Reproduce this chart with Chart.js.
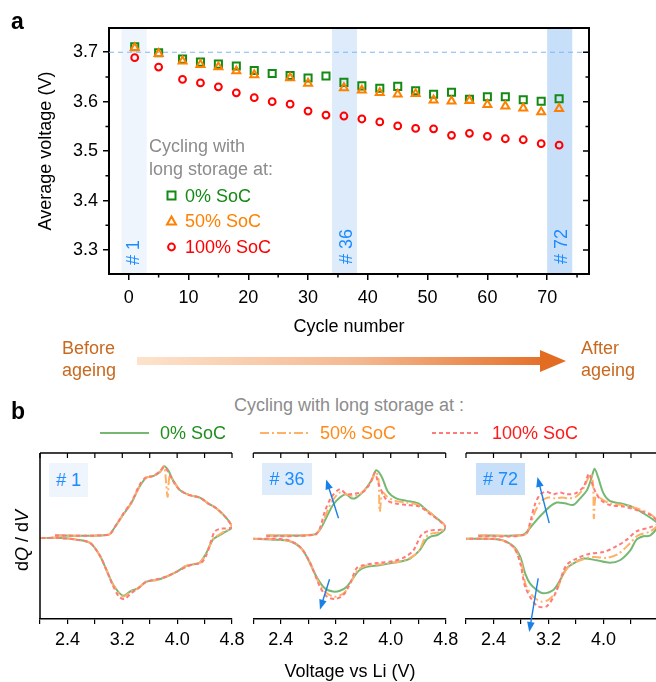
<!DOCTYPE html>
<html>
<head>
<meta charset="utf-8">
<script src="https://cdn.jsdelivr.net/npm/chart.js@4.4.1/dist/chart.umd.min.js"></script>
<style>
  html, body { margin: 0; padding: 0; background: #fff; }
  body { width: 656px; height: 682px; position: relative; overflow: hidden;
         font-family: "Liberation Sans", Arial, Helvetica, sans-serif; }
  canvas { position: absolute; left: 0; }
  .t { position: absolute; white-space: nowrap; font-size: 18px; line-height: 20px; }
  .rot { transform: rotate(-90deg); transform-origin: 0 0; }
  .gray { color: #8c8c8c; }
  .blue { color: #1a8cff; }
  .brown { color: #c8691f; }
  .tag { position: absolute; font-size: 18px; color: #1a8cff; text-align: center; }
  svg { position: absolute; overflow: visible; }
</style>
</head>
<body>
<canvas id="cycles" width="656" height="345" style="top:0"></canvas>
<canvas id="dqdv1" width="656" height="242" style="top:440px"></canvas>
<canvas id="dqdv36" width="656" height="242" style="top:440px"></canvas>
<canvas id="dqdv72" width="656" height="242" style="top:440px"></canvas>

<!-- panel a texts -->
<div class="t" style="left:11px;top:11px;font-weight:bold;font-size:23px">a</div>
<div class="t gray" style="left:149px;top:136px">Cycling with</div>
<div class="t gray" style="left:149px;top:159px">long storage at:</div>
<svg style="left:0;top:0" width="1" height="1">
  <rect x="167.5" y="191.5" width="8" height="8" fill="none" stroke="#138a13" stroke-width="2"/>
  <polygon points="171.5,216.5 176,224.5 167,224.5" fill="none" stroke="#ff8000" stroke-width="2"/>
  <circle cx="171.5" cy="247" r="3.4" fill="none" stroke="#ff0000" stroke-width="2"/>
</svg>
<div class="t" style="left:185px;top:186px;color:#138a13">0% SoC</div>
<div class="t" style="left:185px;top:211px;color:#ff8000">50% SoC</div>
<div class="t" style="left:185px;top:237px;color:#ff0000">100% SoC</div>
<div class="t blue rot" style="left:123px;top:265px"># 1</div>
<div class="t blue rot" style="left:336px;top:264px"># 36</div>
<div class="t blue rot" style="left:551px;top:264px"># 72</div>

<!-- ageing arrow -->
<div class="t brown" style="left:62px;top:338px">Before</div>
<div class="t brown" style="left:62px;top:360px">ageing</div>
<div style="position:absolute;left:137px;top:357px;width:405px;height:8px;background:linear-gradient(to right,#fde3cc,#f4b890 55%,#e4712a)"></div>
<svg style="left:0;top:0" width="1" height="1">
  <polygon points="540,350 566,361 540,372" fill="#e36c23"/>
</svg>
<div class="t brown" style="left:581px;top:338px">After</div>
<div class="t brown" style="left:581px;top:360px">ageing</div>

<!-- panel b texts -->
<div class="t" style="left:11px;top:401px;font-weight:bold;font-size:23px">b</div>
<div class="t gray" style="left:149px;top:395px;width:400px;text-align:center">Cycling with long storage at :</div>
<svg style="left:0;top:0" width="1" height="1">
  <line x1="100" y1="433" x2="149" y2="433" stroke="#74b874" stroke-width="2"/>
  <line x1="260" y1="433" x2="308" y2="433" stroke="#ffb266" stroke-width="2" stroke-dasharray="9,3,2,3"/>
  <line x1="432" y1="433" x2="478" y2="433" stroke="#ff7a7a" stroke-width="2" stroke-dasharray="4,3"/>
</svg>
<div class="t" style="left:160px;top:423px;color:#1f8f1f">0% SoC</div>
<div class="t" style="left:320px;top:423px;color:#ff8a1a">50% SoC</div>
<div class="t" style="left:492px;top:423px;color:#ff1a1a">100% SoC</div>
<div class="tag" style="left:49px;top:463px;width:39px;height:34px;line-height:34px;background:#eff5fd"># 1</div>
<div class="tag" style="left:262px;top:463px;width:50px;height:32px;line-height:32px;background:#ddebfb"># 36</div>
<div class="tag" style="left:476px;top:463px;width:49px;height:32px;line-height:32px;background:#c7dff8"># 72</div>
<div class="t rot" style="left:12px;top:571px">d<i>Q</i> / d<i>V</i></div>
<div class="t" style="left:150px;top:661px;width:400px;text-align:center">Voltage vs Li (V)</div>

<script>
Chart.defaults.font.family = '"Liberation Sans", Arial, Helvetica, sans-serif';
Chart.defaults.font.size = 18;
Chart.defaults.color = "#000";

// panel a: average voltage vs cycle number
const cycles = [1, 5, 9, 12, 15, 18, 21, 24, 27, 30, 33, 36, 39, 42, 45, 48, 51, 54, 57, 60, 63, 66, 69, 72];
const soc0 = [3.711, 3.699, 3.686, 3.680, 3.676, 3.672, 3.663, 3.657, 3.653, 3.648, 3.652, 3.639,
  3.632, 3.627, 3.631, 3.622, 3.615, 3.619, 3.605, 3.610, 3.610, 3.604, 3.601, 3.606];
const soc50 = [3.709, 3.697, 3.682, 3.675, 3.670, 3.662, 3.654, null, 3.648, 3.637, null, 3.628,
  3.623, 3.618, 3.615, 3.616, 3.603, 3.601, 3.602, 3.594, 3.591, 3.587, 3.579, 3.586];
const soc100 = [3.689, 3.670, 3.645, 3.638, 3.630, 3.618, 3.608, 3.600, 3.595, 3.581, 3.573, 3.571,
  3.565, 3.559, 3.551, 3.546, 3.545, 3.532, 3.536, 3.530, 3.525, 3.523, 3.515, 3.512];
const refVoltage = 3.7;
const bandStart = [-1.2, 34, 70];
const bandEnd = [3, 38.2, 74.2];
const bandColors = ["#eff5fd", "#ddebfb", "#c7dff8"];
const cycleMin = -3.3, cycleMax = 77;

// panel b: dQ/dV curves, [voltage, dQ/dV] going up the charge branch then back down
const p1Soc0 = [[2.22,0.00],[3.00,0.01],[3.09,0.10],[3.21,0.25],[3.33,0.39],[3.45,0.59],[3.55,0.70],[3.65,0.72],
  [3.75,0.77],[3.81,0.84],[3.87,0.79],[3.94,0.67],[4.04,0.55],[4.18,0.49],[4.33,0.46],[4.45,0.39],[4.57,0.33],
  [4.72,0.21],[4.80,0.10],[4.67,0.03],[4.59,-0.01],[4.52,-0.05],[4.42,-0.22],[4.33,-0.33],[4.23,-0.35],
  [4.13,-0.37],[3.99,-0.44],[3.84,-0.50],[3.70,-0.54],[3.55,-0.56],[3.43,-0.64],[3.33,-0.67],[3.21,-0.73],
  [3.07,-0.60],[2.97,-0.42],[2.87,-0.24],[2.73,-0.09],[2.53,-0.05],[2.29,-0.03],[2.00,-0.03]];
const p1Soc50 = [[2.22,0.00],[3.00,0.01],[3.09,0.10],[3.21,0.25],[3.33,0.39],[3.45,0.59],[3.55,0.70],[3.65,0.72],
  [3.75,0.77],[3.81,0.84],[3.86,0.47],[3.89,0.72],[3.94,0.67],[4.04,0.55],[4.18,0.49],[4.33,0.46],[4.45,0.39],
  [4.57,0.33],[4.72,0.21],[4.80,0.10],[4.67,0.04],[4.59,0.00],[4.52,-0.05],[4.42,-0.23],[4.33,-0.33],[4.23,-0.35],
  [4.13,-0.37],[3.99,-0.44],[3.84,-0.50],[3.70,-0.54],[3.55,-0.56],[3.43,-0.64],[3.33,-0.68],[3.21,-0.74],
  [3.07,-0.60],[2.97,-0.42],[2.87,-0.24],[2.73,-0.09],[2.53,-0.05],[2.29,-0.03],[2.00,-0.03]];
const p1Soc100 = [[2.22,0.00],[3.00,0.01],[3.09,0.10],[3.21,0.26],[3.33,0.40],[3.45,0.61],[3.55,0.71],[3.65,0.72],
  [3.75,0.78],[3.81,0.83],[3.87,0.77],[3.94,0.66],[4.04,0.55],[4.18,0.49],[4.33,0.46],[4.45,0.39],[4.57,0.33],
  [4.72,0.21],[4.80,0.10],[4.62,0.08],[4.55,0.05],[4.50,-0.05],[4.42,-0.25],[4.35,-0.33],[4.23,-0.35],
  [4.13,-0.38],[3.99,-0.44],[3.84,-0.50],[3.70,-0.53],[3.55,-0.56],[3.43,-0.64],[3.33,-0.70],[3.23,-0.77],
  [3.15,-0.74],[3.06,-0.60],[2.97,-0.42],[2.87,-0.24],[2.73,-0.09],[2.53,-0.05],[2.29,-0.03],[2.00,-0.03]];

const p36Soc0 = [[2.19,0.00],[2.87,0.01],[2.97,0.07],[3.07,0.23],[3.16,0.37],[3.26,0.46],[3.35,0.50],[3.43,0.45],
  [3.50,0.46],[3.62,0.55],[3.72,0.67],[3.79,0.79],[3.87,0.71],[3.96,0.53],[4.08,0.45],[4.23,0.42],[4.40,0.39],
  [4.52,0.31],[4.67,0.21],[4.80,0.10],[4.69,0.01],[4.59,-0.01],[4.52,-0.05],[4.42,-0.18],[4.28,-0.28],
  [4.18,-0.31],[4.04,-0.33],[3.84,-0.36],[3.65,-0.38],[3.53,-0.43],[3.45,-0.52],[3.36,-0.62],[3.26,-0.67],
  [3.16,-0.68],[3.04,-0.64],[2.92,-0.50],[2.78,-0.26],[2.68,-0.14],[2.53,-0.07],[2.29,-0.05],[2.00,-0.04]];
const p36Soc50 = [[2.19,0.00],[2.88,0.01],[2.97,0.08],[3.06,0.26],[3.15,0.42],[3.26,0.52],[3.35,0.50],[3.45,0.48],
  [3.55,0.50],[3.65,0.58],[3.73,0.68],[3.78,0.77],[3.82,0.70],[3.84,0.29],[3.88,0.52],[3.95,0.47],[4.06,0.42],
  [4.23,0.40],[4.40,0.37],[4.55,0.29],[4.70,0.19],[4.80,0.10],[4.70,0.04],[4.58,0.02],[4.50,-0.03],[4.40,-0.20],
  [4.26,-0.28],[4.10,-0.32],[3.84,-0.35],[3.62,-0.37],[3.52,-0.42],[3.43,-0.55],[3.34,-0.68],[3.25,-0.73],
  [3.17,-0.74],[3.07,-0.70],[2.96,-0.58],[2.81,-0.30],[2.68,-0.14],[2.50,-0.06],[2.00,-0.04]];
const p36Soc100 = [[2.19,-0.01],[2.90,0.01],[2.97,0.09],[3.04,0.29],[3.14,0.47],[3.26,0.56],[3.36,0.50],[3.48,0.51],
  [3.60,0.53],[3.70,0.63],[3.77,0.76],[3.82,0.63],[3.94,0.43],[4.06,0.39],[4.23,0.37],[4.42,0.35],[4.57,0.26],
  [4.72,0.17],[4.80,0.10],[4.72,0.07],[4.57,0.06],[4.45,0.01],[4.33,-0.18],[4.21,-0.26],[4.04,-0.31],
  [3.84,-0.33],[3.60,-0.36],[3.50,-0.40],[3.41,-0.58],[3.31,-0.72],[3.19,-0.77],[3.07,-0.74],[2.97,-0.62],
  [2.82,-0.32],[2.68,-0.14],[2.48,-0.05],[2.00,-0.04]];

const p72Soc0 = [[2.18,0.00],[2.83,0.01],[2.93,0.09],[3.03,0.19],[3.12,0.27],[3.22,0.35],[3.32,0.40],[3.44,0.39],
  [3.56,0.37],[3.66,0.45],[3.76,0.55],[3.83,0.71],[3.87,0.81],[3.92,0.71],[4.00,0.51],[4.09,0.42],[4.24,0.39],
  [4.41,0.35],[4.58,0.27],[4.76,0.17],[4.80,0.13],[4.68,0.00],[4.58,-0.01],[4.48,-0.05],[4.39,-0.18],
  [4.24,-0.30],[4.09,-0.33],[3.90,-0.30],[3.71,-0.28],[3.56,-0.34],[3.46,-0.40],[3.37,-0.54],[3.27,-0.66],
  [3.12,-0.70],[3.03,-0.66],[2.93,-0.58],[2.86,-0.46],[2.79,-0.26],[2.69,-0.13],[2.49,-0.05],[2.00,-0.04]];
const p72Soc50 = [[2.18,0.00],[2.85,0.01],[2.93,0.12],[3.01,0.30],[3.10,0.42],[3.20,0.46],[3.30,0.45],[3.40,0.46],
  [3.50,0.45],[3.60,0.47],[3.70,0.56],[3.78,0.70],[3.82,0.74],[3.85,0.60],[3.86,0.21],[3.89,0.50],[3.96,0.45],
  [4.09,0.39],[4.28,0.37],[4.48,0.33],[4.68,0.26],[4.80,0.15],[4.68,0.05],[4.50,0.00],[4.38,-0.10],
  [4.22,-0.22],[4.05,-0.27],[3.85,-0.26],[3.66,-0.30],[3.50,-0.37],[3.40,-0.50],[3.31,-0.68],[3.20,-0.78],
  [3.09,-0.80],[2.98,-0.74],[2.87,-0.60],[2.80,-0.32],[2.69,-0.14],[2.49,-0.05],[2.00,-0.04]];
const p72Soc100 = [[2.18,-0.01],[2.86,0.01],[2.93,0.15],[3.00,0.37],[3.08,0.50],[3.17,0.53],[3.27,0.50],[3.37,0.52],
  [3.46,0.50],[3.59,0.51],[3.71,0.59],[3.79,0.75],[3.85,0.59],[3.95,0.44],[4.09,0.37],[4.29,0.35],[4.48,0.31],
  [4.68,0.25],[4.80,0.15],[4.68,0.10],[4.48,0.05],[4.34,-0.05],[4.19,-0.13],[4.00,-0.20],[3.80,-0.22],
  [3.61,-0.28],[3.46,-0.36],[3.37,-0.54],[3.29,-0.72],[3.17,-0.86],[3.05,-0.86],[2.96,-0.78],[2.86,-0.62],
  [2.79,-0.34],[2.69,-0.14],[2.49,-0.05],[2.00,-0.04]];

// blue arrows [fromV, fromY, toV, toY]
const arrows36 = [[3.24, 0.21, 3.06, 0.68], [3.11, -0.53, 2.97, -0.90]];
const arrows72 = [[3.21, 0.15, 3.04, 0.71], [3.05, -0.52, 2.92, -1.17]];

const pts = (ys) => cycles.map((c, i) => ({ x: c, y: ys[i] }));
const xy = (pairs) => pairs.map(([v, q]) => ({ x: v, y: q }));

const bandsPlugin = {
  id: "bands",
  beforeDraw(chart) {
    const { ctx, chartArea: a, scales: { x } } = chart;
    ctx.save();
    bandStart.forEach((s, i) => {
      const x0 = x.getPixelForValue(s);
      const x1 = x.getPixelForValue(bandEnd[i]);
      ctx.fillStyle = bandColors[i];
      ctx.fillRect(x0, a.top, x1 - x0, a.bottom - a.top);
    });
    ctx.restore();
  },
};

// closes the box and adds the minor / mirrored ticks
const frameA = {
  id: "frameA",
  afterDraw(chart) {
    const { ctx, chartArea: a, scales: { x, y } } = chart;
    ctx.save();
    ctx.strokeStyle = "#000";
    ctx.lineWidth = 2;
    ctx.beginPath();
    ctx.moveTo(a.left - 1, a.top);
    ctx.lineTo(a.right, a.top);
    ctx.lineTo(a.right, a.bottom + 1);
    ctx.stroke();
    ctx.lineWidth = 1.5;
    ctx.beginPath();
    for (let v = 5; v < x.max; v += 10) {
      const px = x.getPixelForValue(v);
      ctx.moveTo(px, a.bottom);
      ctx.lineTo(px, a.bottom + 3.5);
    }
    y.ticks.forEach((t) => {
      const py = y.getPixelForValue(t.value);
      ctx.moveTo(a.right, py);
      ctx.lineTo(a.right - 6, py);
    });
    for (let v = y.ticks[0].value + 0.05; v < y.max; v += 0.1) {
      const py = y.getPixelForValue(v);
      ctx.moveTo(a.left, py);
      ctx.lineTo(a.left - 3.5, py);
      ctx.moveTo(a.right, py);
      ctx.lineTo(a.right - 3.5, py);
    }
    ctx.stroke();
    ctx.restore();
  },
};

new Chart(document.getElementById("cycles"), {
  type: "scatter",
  data: {
    datasets: [
      { label: "50% SoC", data: pts(soc50), pointStyle: "triangle", pointRadius: 4.6, borderWidth: 2,
        borderColor: "#ff8000", backgroundColor: "rgba(0,0,0,0)", order: 1 },
      { label: "0% SoC", data: pts(soc0), pointStyle: "rect", pointRadius: 5, borderWidth: 2,
        borderColor: "#138a13", backgroundColor: "rgba(0,0,0,0)", order: 2 },
      { label: "100% SoC", data: pts(soc100), pointStyle: "circle", pointRadius: 3.4, borderWidth: 2,
        borderColor: "#ff0000", backgroundColor: "rgba(0,0,0,0)", order: 3 },
      { label: "ref", data: [{ x: cycleMin, y: refVoltage }, { x: cycleMax, y: refVoltage }], showLine: true,
        pointRadius: 0, borderColor: "#7db9f2", borderWidth: 1.2, borderDash: [5, 4], order: 4 },
    ],
  },
  options: {
    responsive: false,
    animation: false,
    layout: { padding: { left: 0, right: 67, top: 28, bottom: 0 } },
    plugins: { legend: { display: false }, tooltip: { enabled: false } },
    scales: {
      x: {
        type: "linear", min: cycleMin, max: cycleMax,
        afterFit: (s) => { s.height = 71; },
        border: { color: "#000", width: 2 },
        grid: { drawOnChartArea: false, tickLength: 6, color: "#000", lineWidth: 1.5 },
        ticks: { stepSize: 10, includeBounds: false, padding: 7, maxRotation: 0 },
        title: { display: true, text: "Cycle number", padding: { top: 0, bottom: 7 } },
      },
      y: {
        min: 3.2515, max: 3.749,
        afterFit: (s) => { s.width = 109; },
        border: { color: "#000", width: 2 },
        grid: { drawOnChartArea: false, tickLength: 6, color: "#000", lineWidth: 1.5 },
        ticks: { stepSize: 0.1, includeBounds: false, padding: 5, callback: (v) => v.toFixed(1) },
        title: { display: true, text: "Average voltage (V)", padding: { top: 35, bottom: 0 } },
      },
    },
  },
  plugins: [bandsPlugin, frameA],
});

const frameB = {
  id: "frameB",
  afterDraw(chart, args, opts) {
    const { ctx, chartArea: a, scales: { x, y } } = chart;
    ctx.save();
    ctx.strokeStyle = "#000";
    ctx.lineWidth = 1.5;
    ctx.beginPath();
    ctx.moveTo(a.left, a.top);
    ctx.lineTo(a.right, a.top);
    if (opts.leftSpine) {
      ctx.moveTo(a.left, a.top);
      ctx.lineTo(a.left, a.bottom);
    }
    ctx.stroke();
    ctx.lineWidth = 1.2;
    ctx.beginPath();
    x.ticks.forEach((t) => {
      const px = x.getPixelForValue(t.value);
      ctx.moveTo(px, a.top);
      ctx.lineTo(px, a.top + 5);
    });
    ctx.stroke();
    ctx.strokeStyle = ctx.fillStyle = "#1a7fe6";
    ctx.lineWidth = 1.4;
    (opts.arrows || []).forEach(([v0, q0, v1, q1]) => {
      const x0 = x.getPixelForValue(v0), y0 = y.getPixelForValue(q0);
      const x1 = x.getPixelForValue(v1), y1 = y.getPixelForValue(q1);
      const ang = Math.atan2(y1 - y0, x1 - x0);
      ctx.beginPath();
      ctx.moveTo(x0, y0);
      ctx.lineTo(x1 - 7 * Math.cos(ang), y1 - 7 * Math.sin(ang));
      ctx.stroke();
      ctx.beginPath();
      ctx.moveTo(x1, y1);
      ctx.lineTo(x1 - 10 * Math.cos(ang) + 3.8 * Math.sin(ang), y1 - 10 * Math.sin(ang) - 3.8 * Math.cos(ang));
      ctx.lineTo(x1 - 10 * Math.cos(ang) - 3.8 * Math.sin(ang), y1 - 10 * Math.sin(ang) + 3.8 * Math.cos(ang));
      ctx.closePath();
      ctx.fill();
    });
    ctx.restore();
  },
};

function dqdvChart(id, left, right, vMax, curves, arrows, leftSpine) {
  const line = (data, color, dash, order) => ({
    data: xy(data), showLine: true, pointRadius: 0, borderColor: color, borderWidth: 2,
    borderDash: dash, tension: 0.3, order: order,
  });
  return new Chart(document.getElementById(id), {
    type: "scatter",
    data: {
      datasets: [
        line(curves[0], "#74b874", [], 3),
        line(curves[1], "#ffb266", [9, 3, 2, 3], 2),
        line(curves[2], "#ff7a7a", [4, 3], 1),
      ],
    },
    options: {
      responsive: false,
      animation: false,
      layout: { padding: { left: left, right: 656 - right, top: 13, bottom: 0 } },
      plugins: { legend: { display: false }, tooltip: { enabled: false }, frameB: { arrows, leftSpine } },
      scales: {
        x: {
          type: "linear", min: 2.0, max: vMax,
          afterFit: (s) => { s.height = 63; },
          border: { color: "#000", width: 1.5 },
          grid: { drawOnChartArea: false, tickLength: 5, color: "#000", lineWidth: 1.2 },
          ticks: {
            stepSize: 0.4, includeBounds: false, padding: 5, maxRotation: 0, autoSkip: false,
            callback: (v) => ([24, 32, 40, 48].includes(Math.round(v * 10)) ? v.toFixed(1) : ""),
          },
        },
        y: { display: false, min: -1.012, max: 1.0 },
      },
    },
    plugins: [frameB],
  });
}

dqdvChart("dqdv1", 40, 232, 4.8, [p1Soc0, p1Soc50, p1Soc100], [], true);
dqdvChart("dqdv36", 253.3, 445.7, 4.8, [p36Soc0, p36Soc50, p36Soc100], arrows36, false);
dqdvChart("dqdv72", 466, 656, 4.764, [p72Soc0, p72Soc50, p72Soc100], arrows72, false);
</script>
</body>
</html>
